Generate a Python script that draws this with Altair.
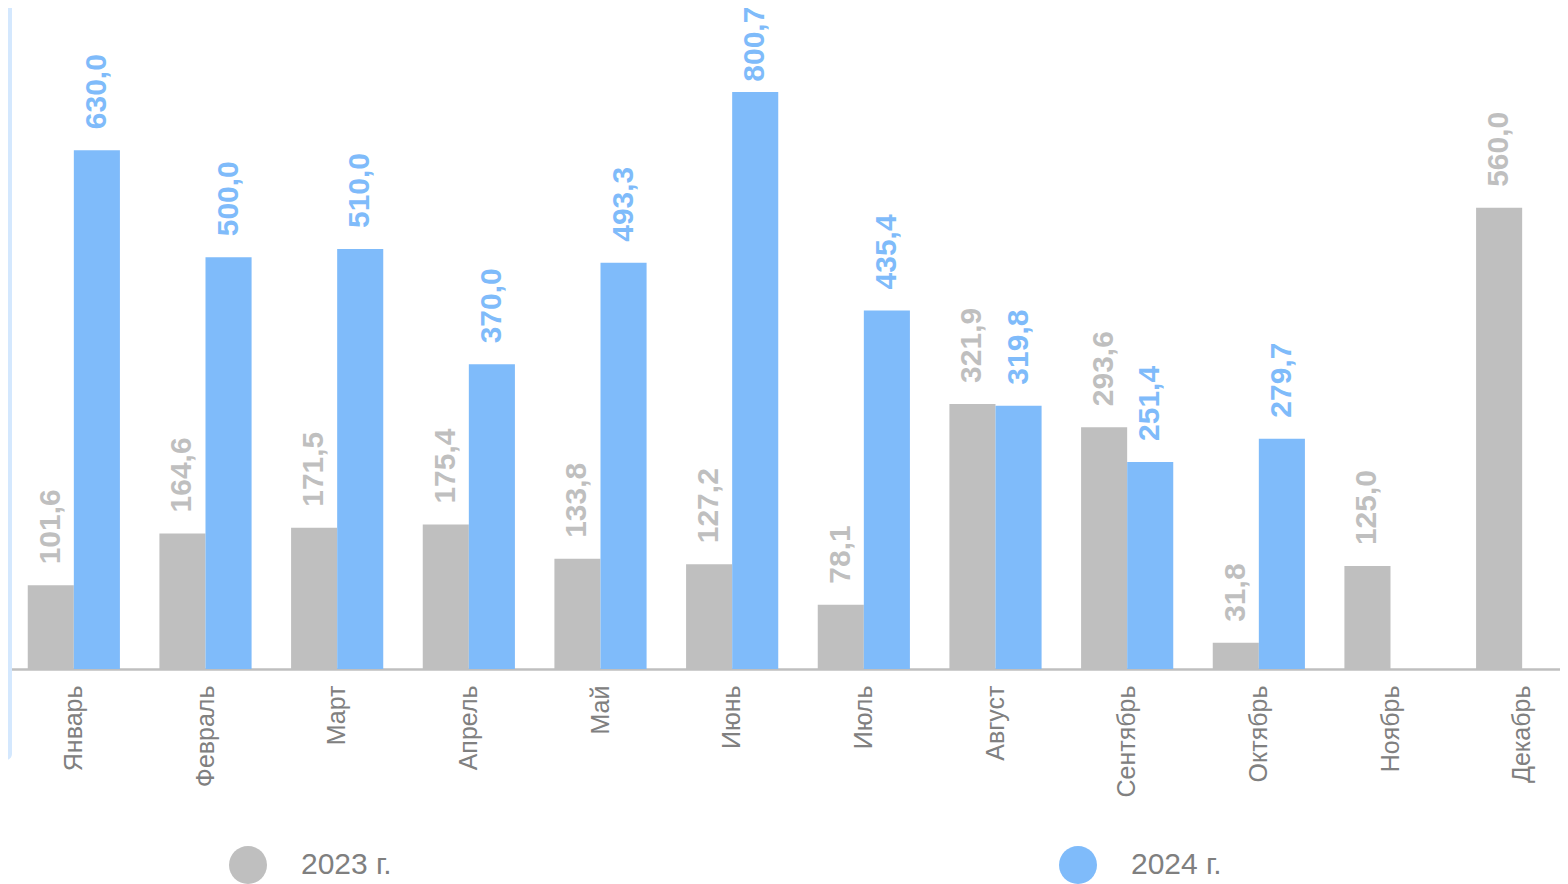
import altair as alt
import pandas as pd

months = ["Январь", "Февраль", "Март", "Апрель", "Май", "Июнь",
          "Июль", "Август", "Сентябрь", "Октябрь", "Ноябрь", "Декабрь"]
series = ["2023 г.", "2024 г."]
values_2023 = [101.6, 164.6, 171.5, 175.4, 133.8, 127.2, 78.1, 321.9, 293.6, 31.8, 125.0, 560.0]
values_2024 = [630.0, 500.0, 510.0, 370.0, 493.3, 700.7, 435.4, 319.8, 251.4, 279.7, None, None]
labels_2023 = ["101,6", "164,6", "171,5", "175,4", "133,8", "127,2", "78,1", "321,9", "293,6", "31,8", "125,0", "560,0"]
labels_2024 = ["630,0", "500,0", "510,0", "370,0", "493,3", "800,7", "435,4", "319,8", "251,4", "279,7", None, None]

rows = []
for m, v, l in zip(months, values_2023, labels_2023):
    rows.append({"month": m, "year": series[0], "value": v, "label": l})
for m, v, l in zip(months, values_2024, labels_2024):
    if v is not None:
        rows.append({"month": m, "year": series[1], "value": v, "label": l})
df = pd.DataFrame(rows)

GRAY = "#bfbfbf"
BLUE = "#7fbbfa"
FONT = "Liberation Sans"
Y_MAX = 802.7

# the band axis runs on past the right edge of the visible area
x_scale = alt.Scale(paddingInner=0.3, paddingOuter=0.15, range=[0, 1580])
x_axis = alt.Axis(labelAngle=270, labelFontSize=25, labelColor="#808080",
                  labelFont=FONT, ticks=False, domainColor=GRAY,
                  domainWidth=2.5, labelPadding=16, grid=False)
x_enc = alt.X("month:N", sort=months, title=None, scale=x_scale, axis=x_axis)
xo_enc = alt.XOffset("year:N", sort=series)
y_scale = alt.Scale(domain=[0, Y_MAX], nice=False)
color_scale = alt.Scale(domain=series, range=[GRAY, BLUE])

bars = alt.Chart(df).mark_bar().encode(
    x=x_enc,
    xOffset=xo_enc,
    y=alt.Y("value:Q", scale=y_scale, axis=None),
    color=alt.Color("year:N", scale=color_scale, title=None,
                    legend=alt.Legend(orient="none", legendX=221, legendY=838,
                                      direction="horizontal", symbolType="circle",
                                      symbolSize=1444, symbolStrokeWidth=0,
                                      symbolOpacity=1, labelFontSize=30,
                                      labelFont=FONT, labelColor="#7f7f7f",
                                      labelOffset=34, columnPadding=667,
                                      labelLimit=300)),
)

# labels sit above their bars; keep the tallest one inside the chart top
texts = alt.Chart(df).transform_calculate(
    label_pos=f"min(datum.value, {Y_MAX} - 115)"
).mark_text(angle=270, align="left", baseline="middle",
            dx=21, fontSize=30, fontWeight="bold", font=FONT).encode(
    x=x_enc,
    xOffset=xo_enc,
    y=alt.Y("label_pos:Q", scale=y_scale, axis=None),
    text="label:N",
    color=alt.Color("year:N", scale=color_scale, legend=None),
)

strip = alt.Chart(pd.DataFrame({"k": [0]})).mark_rect(
    color="#d4e8fe", cornerRadiusBottomRight=10).encode(
    x=alt.value(-8), x2=alt.value(4), y=alt.value(-8), y2=alt.value(752))

chart = alt.layer(strip, bars, texts).properties(
    width=1552, height=661,
    autosize=alt.AutoSizeParams(type="none"),
    padding={"left": 0, "top": 0, "right": 0, "bottom": 215},
).configure(font=FONT).configure_view(stroke=None)

chart.save("out.html", embed_options={"renderer": "svg", "actions": False})
